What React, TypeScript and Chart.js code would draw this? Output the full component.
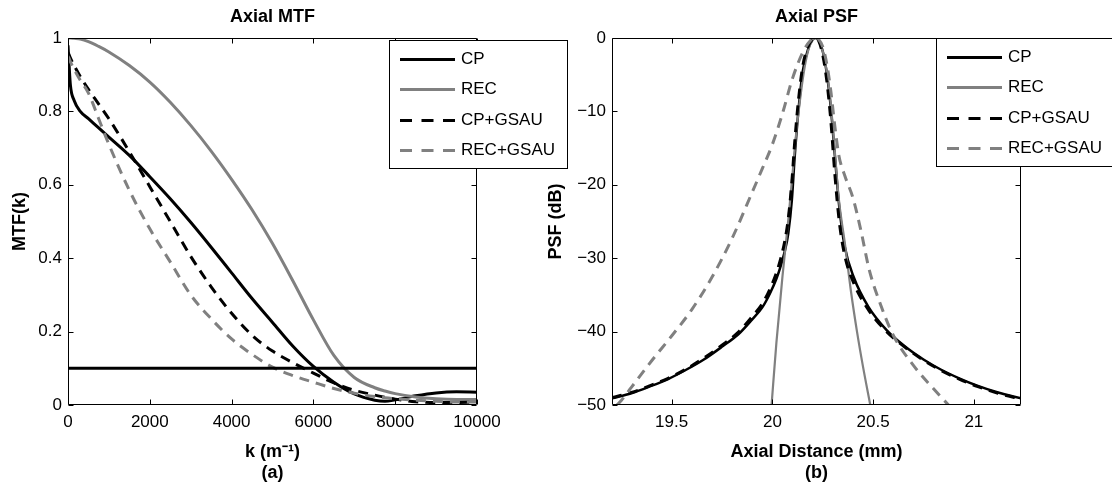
import React, { useEffect, useRef } from 'react';
import { Chart, registerables } from 'chart.js';

Chart.register(...registerables);

const FONT = "'Liberation Sans', Arial, Helvetica, sans-serif";
const BLACK = '#000000';
const GREY = '#808080';

// ---------- Left panel: Axial MTF ----------
const mtfK = [0, 25, 60, 150, 300, 500, 750, 1000, 1500, 2000, 2500, 3000, 3500, 4000, 4500, 5000, 5500, 6000, 6500, 7000, 7500, 7750, 8000, 8500, 9000, 9500, 10000];
const mtfCP = [0.98, 0.93, 0.87, 0.83, 0.80, 0.78, 0.755, 0.73, 0.68, 0.622, 0.562, 0.498, 0.43, 0.36, 0.29, 0.225, 0.16, 0.105, 0.062, 0.03, 0.013, 0.01, 0.014, 0.025, 0.033, 0.036, 0.035];
const mtfREC = [1.0, 1.0, 1.0, 0.999, 0.997, 0.99, 0.977, 0.962, 0.925, 0.88, 0.825, 0.762, 0.692, 0.615, 0.532, 0.44, 0.338, 0.232, 0.135, 0.075, 0.047, 0.038, 0.031, 0.022, 0.017, 0.015, 0.015];
const mtfCPGSAU = [0.96, 0.955, 0.945, 0.925, 0.895, 0.86, 0.82, 0.78, 0.69, 0.595, 0.5, 0.405, 0.322, 0.25, 0.19, 0.147, 0.115, 0.087, 0.06, 0.04, 0.027, 0.021, 0.016, 0.009, 0.007, 0.007, 0.008];
const mtfRECGSAU = [0.95, 0.945, 0.935, 0.915, 0.885, 0.85, 0.78, 0.71, 0.585, 0.48, 0.39, 0.30, 0.235, 0.18, 0.138, 0.103, 0.08, 0.062, 0.045, 0.032, 0.023, 0.02, 0.017, 0.013, 0.01, 0.008, 0.008];
const mtfThresholdK = [0, 10000];
const mtfThreshold = [0.1, 0.1];
const mtfXTicks = [0, 2000, 4000, 6000, 8000, 10000];
const mtfYTicks = [0, 0.2, 0.4, 0.6, 0.8, 1];

// ---------- Right panel: Axial PSF ----------
const psfCPX = [19.204, 19.3, 19.39, 19.48, 19.572, 19.66, 19.753, 19.83, 19.898, 19.95, 19.988, 20.02, 20.042, 20.062, 20.079, 20.097, 20.11, 20.129, 20.151, 20.18, 20.2, 20.215, 20.23, 20.25, 20.27, 20.29, 20.31, 20.332, 20.359, 20.404, 20.476, 20.567, 20.657, 20.75, 20.838, 20.93, 21.02, 21.12, 21.234];
const psfCP = [-49.1, -48.4, -47.5, -46.5, -45.2, -43.8, -42.0, -40.4, -38.4, -36.7, -34.8, -32.8, -31.0, -29.0, -26.6, -22.0, -16.5, -10.0, -4.5, -1.3, -0.2, 0, -0.3, -1.8, -4.8, -9.5, -16.0, -23.0, -28.4, -32.6, -36.6, -39.8, -42.0, -43.8, -45.2, -46.4, -47.4, -48.3, -49.1];
const psfCPGSAU = [-49.0, -48.3, -47.4, -46.4, -45.1, -43.6, -41.8, -40.1, -38.0, -36.2, -34.2, -32.0, -30.0, -27.6, -24.6, -19.5, -14.5, -8.6, -3.8, -1.0, -0.15, 0, -0.4, -2.3, -5.8, -11.2, -18.5, -25.0, -29.6, -33.4, -37.0, -40.0, -42.1, -43.9, -45.3, -46.5, -47.5, -48.4, -49.2];
const psfRECX = [19.996, 20.02, 20.05, 20.08, 20.1, 20.12, 20.14, 20.16, 20.18, 20.2, 20.215, 20.23, 20.25, 20.27, 20.29, 20.31, 20.33, 20.36, 20.39, 20.42, 20.45, 20.486];
const psfREC = [-50, -41.5, -32.5, -24.5, -18.5, -12.5, -7.8, -4.0, -1.5, -0.3, 0, -0.3, -1.8, -4.6, -9.0, -15.5, -22.0, -28.0, -34.5, -40.0, -44.8, -50];
const psfRECGSAUX = [19.229, 19.25, 19.3, 19.4, 19.5, 19.6, 19.7, 19.8, 19.9, 19.95, 20.0, 20.05, 20.1, 20.15, 20.19, 20.21, 20.23, 20.25, 20.27, 20.29, 20.31, 20.33, 20.36, 20.4, 20.44, 20.48, 20.53, 20.6, 20.7, 20.8, 20.874];
const psfRECGSAU = [-50, -49.4, -47.6, -44.0, -40.6, -37.0, -32.6, -27.3, -21.0, -17.8, -14.5, -10.3, -5.5, -2.0, -0.3, 0, -0.2, -1.2, -3.5, -7.2, -12.0, -16.0, -18.8, -21.8, -26.3, -31.5, -35.8, -40.5, -44.6, -47.8, -50];
const psfXTicks = [19.5, 20, 20.5, 21];
const psfYTicks = [-50, -40, -30, -20, -10, 0];

const seriesNames = ['CP', 'REC', 'CP+GSAU', 'REC+GSAU'];

const toPoints = (xs: number[], ys: number[]) => xs.map((x, i) => ({ x, y: ys[i] }));
const fmtTick = (v: number | string) => String(v).replace('-', '\u2212');

const framePlugin = {
  id: 'matlabFrame',
  afterDatasetsDraw(chart: any) {
    const { ctx, chartArea, scales } = chart;
    const l = Math.round(chartArea.left) + 0.5;
    const r = Math.round(chartArea.right) - 0.5;
    const t = Math.round(chartArea.top) + 0.5;
    const b = Math.round(chartArea.bottom) - 0.5;
    const len = 5;
    ctx.save();
    ctx.strokeStyle = BLACK;
    ctx.lineWidth = 1;
    ctx.setLineDash([]);
    ctx.beginPath();
    ctx.rect(l, t, r - l, b - t);
    scales.x.ticks.forEach((tk: any) => {
      const px = Math.round(scales.x.getPixelForValue(tk.value)) + 0.5;
      ctx.moveTo(px, b); ctx.lineTo(px, b - len);
      ctx.moveTo(px, t); ctx.lineTo(px, t + len);
    });
    scales.y.ticks.forEach((tk: any) => {
      const py = Math.round(scales.y.getPixelForValue(tk.value)) + 0.5;
      ctx.moveTo(l, py); ctx.lineTo(l + len, py);
      ctx.moveTo(r, py); ctx.lineTo(r - len, py);
    });
    ctx.stroke();
    ctx.restore();
  },
};

const boxLegendPlugin = {
  id: 'boxLegend',
  afterDraw(chart: any, _args: any, opts: any) {
    const { ctx } = chart;
    const { x, y, w, h } = opts;
    const items = chart.data.datasets.filter((d: any) => d.inLegend);
    ctx.save();
    ctx.fillStyle = '#ffffff';
    ctx.fillRect(x, y, w, h);
    ctx.strokeStyle = BLACK;
    ctx.lineWidth = 1;
    ctx.setLineDash([]);
    ctx.strokeRect(x + 0.5, y + 0.5, w, h);
    items.forEach((d: any, i: number) => {
      const cy = Math.round(y + 19 + i * 30.3) + 0.5;
      ctx.beginPath();
      ctx.setLineDash(d.borderDash && d.borderDash.length ? [12, 9.5] : []);
      ctx.lineWidth = 3;
      ctx.strokeStyle = d.borderColor;
      ctx.moveTo(x + 11, cy);
      ctx.lineTo(x + 66, cy);
      ctx.stroke();
      ctx.setLineDash([]);
      ctx.fillStyle = BLACK;
      ctx.font = `17px ${FONT}`;
      ctx.textBaseline = 'middle';
      ctx.textAlign = 'left';
      ctx.fillText(d.label, x + 72, cy);
    });
    ctx.restore();
  },
};

const lineDs = (label: string, pts: any[], color: string, dashed: boolean, width: number, order: number, inLegend = true) => ({
  label,
  data: pts,
  borderColor: color,
  backgroundColor: color,
  borderWidth: width,
  borderDash: dashed ? [10, 7] : [],
  borderCapStyle: 'butt',
  borderJoinStyle: 'round',
  pointRadius: 0,
  pointHoverRadius: 0,
  fill: false,
  cubicInterpolationMode: 'monotone',
  order,
  inLegend,
});

const axisCommon = (ticksArr: number[], min: number, max: number, title: any, padding: number) => ({
  type: 'linear',
  min,
  max,
  afterBuildTicks: (s: any) => { s.ticks = ticksArr.map((v) => ({ value: v })); },
  grid: { display: false, drawTicks: false },
  border: { display: false },
  ticks: {
    callback: (v: any) => fmtTick(v),
    font: { size: 17, family: FONT },
    color: BLACK,
    padding,
    autoSkip: false,
    maxRotation: 0,
  },
  title,
});

function buildConfig(panel: 'mtf' | 'psf') {
  const isMtf = panel === 'mtf';
  const datasets = isMtf
    ? [
        lineDs(seriesNames[0], toPoints(mtfK, mtfCP), BLACK, false, 3, 0),
        lineDs(seriesNames[1], toPoints(mtfK, mtfREC), GREY, false, 3, -1),
        lineDs(seriesNames[2], toPoints(mtfK, mtfCPGSAU), BLACK, true, 3, -2),
        lineDs(seriesNames[3], toPoints(mtfK, mtfRECGSAU), GREY, true, 3, -3),
        lineDs('threshold', toPoints(mtfThresholdK, mtfThreshold), BLACK, false, 3, -4, false),
      ]
    : [
        lineDs(seriesNames[0], toPoints(psfCPX, psfCP), BLACK, false, 2.5, 0),
        lineDs(seriesNames[1], toPoints(psfRECX, psfREC), GREY, false, 2.2, -1),
        lineDs(seriesNames[2], toPoints(psfCPX, psfCPGSAU), BLACK, true, 3, -2),
        lineDs(seriesNames[3], toPoints(psfRECGSAUX, psfRECGSAU), GREY, true, 3, -3),
      ];

  const xScale: any = axisCommon(
    isMtf ? mtfXTicks : psfXTicks,
    isMtf ? 0 : 19.204,
    isMtf ? 10000 : 21.234,
    {
      display: true,
      text: isMtf ? ['k (m\u207B\u00B9)', '(a)'] : ['Axial Distance (mm)', '(b)'],
      font: { size: 18, weight: 'bold', family: FONT, lineHeight: 1.15 },
      color: BLACK,
      padding: { top: 0, bottom: 0 },
    },
    7,
  );
  xScale.afterFit = (s: any) => { s.height = 78; };

  const yScale: any = axisCommon(
    isMtf ? mtfYTicks : psfYTicks,
    isMtf ? 0 : -50,
    isMtf ? 1 : 0,
    {
      display: true,
      text: isMtf ? 'MTF(k)' : 'PSF (dB)',
      font: { size: 18, weight: 'bold', family: FONT, lineHeight: 1.2 },
      color: BLACK,
      padding: { top: isMtf ? 9 : 5, bottom: 0 },
    },
    6,
  );
  const yWidth = isMtf ? 68 : 72;
  yScale.afterFit = (s: any) => { s.width = yWidth; };

  return {
    type: 'line',
    data: { datasets },
    options: {
      animation: false,
      responsive: false,
      maintainAspectRatio: false,
      devicePixelRatio: 1,
      layout: { padding: { left: 0, top: 0, bottom: 0, right: isMtf ? 93 : 91 } },
      scales: { x: xScale, y: yScale },
      plugins: {
        legend: { display: false },
        tooltip: { enabled: false },
        title: {
          display: true,
          text: isMtf ? 'Axial MTF' : 'Axial PSF',
          font: { size: 18, weight: 'bold', family: FONT, lineHeight: 1.2 },
          color: BLACK,
          fullSize: false,
          padding: { top: 6, bottom: 10.4 },
        },
        boxLegend: isMtf ? { x: 389, y: 40, w: 178, h: 128 } : { x: 396, y: 38, w: 178, h: 128 },
      },
    },
    plugins: [framePlugin, boxLegendPlugin],
  };
}

function Panel({ panel, left, width, z }: { panel: 'mtf' | 'psf'; left: number; width: number; z: number }) {
  const ref = useRef<HTMLCanvasElement | null>(null);
  useEffect(() => {
    if (!ref.current) return;
    const chart = new Chart(ref.current, buildConfig(panel) as any);
    return () => chart.destroy();
  }, [panel]);
  return (
    <canvas
      ref={ref}
      width={width}
      height={483}
      style={{ position: 'absolute', left, top: 0, width, height: 483, zIndex: z }}
    />
  );
}

export default function App() {
  Chart.defaults.font.family = FONT;
  Chart.defaults.color = BLACK;
  return (
    <div style={{ position: 'fixed', left: 0, top: 0, width: 1112, height: 483, background: '#ffffff', overflow: 'hidden' }}>
      <Panel panel="psf" left={540} width={572} z={1} />
      <Panel panel="mtf" left={0} width={570} z={2} />
    </div>
  );
}
